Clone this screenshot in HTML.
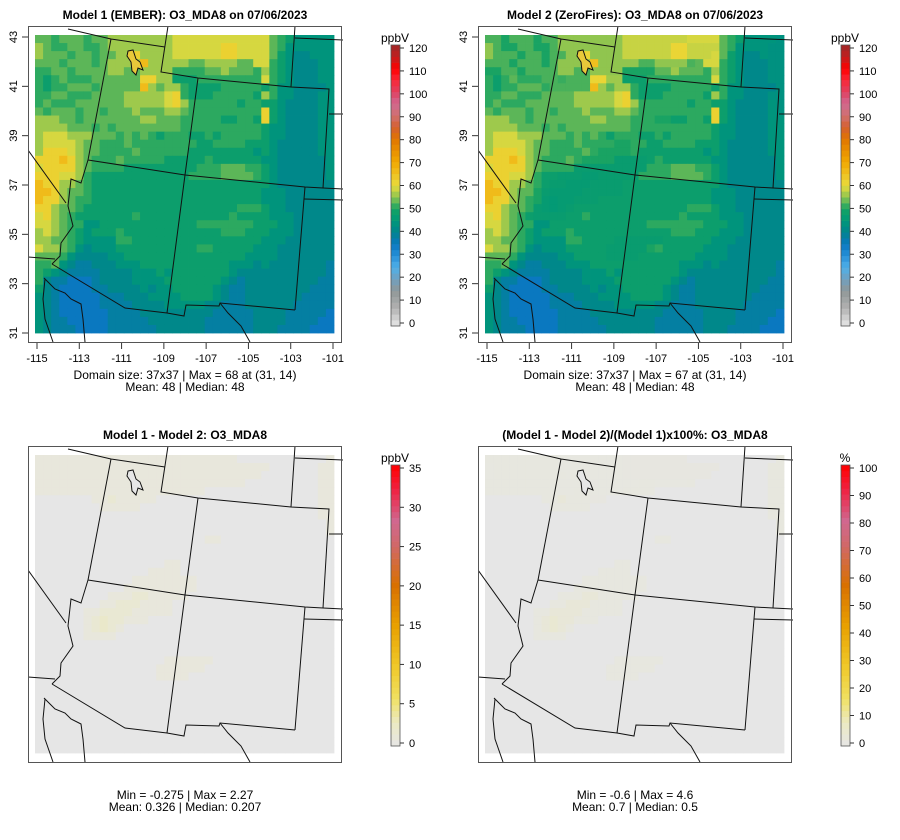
<!DOCTYPE html>
<html><head><meta charset="utf-8"><style>
html,body{margin:0;padding:0;background:#fff;}
svg{display:block;font-family:"Liberation Sans",sans-serif;}
</style></head><body>
<svg id="chart" width="900" height="840" viewBox="0 0 900 840" xmlns="http://www.w3.org/2000/svg"></svg>
<script>
// ---- data ----
const codeKeys = ["a","b","c","d","e","f","g","h","i","j","k"];
const codeValues = [35,38,41,44,48,51,53,56,59,62,66];
const model1Rows = [
"ggfgggfgg"+"hhhhhhhh"+"iiiiiiiiiiii"+"gf"+"eddddd",
"hgffggffg"+"hhhhhhhh"+"iiiiiijjiiii"+"gf"+"dddddd",
"hgggfggfg"+"ghhjhhhh"+"iiiiiijjiiii"+"ge"+"dccddd",
"gggfgggfg"+"hhhhkhhh"+"hhgghhhhggii"+"fe"+"dcccdd",
"ffggfgggg"+"hhgghhhh"+"ffffgghgggfh"+"fe"+"dcccdd",
"fefgfffgg"+"ggggjjhh"+"eeeffffffffi"+"fe"+"dcccdd",
"feffgggfg"+"ggggkhgh"+"hfeeeefffffe"+"fd"+"dccccd",
"ffggfffgg"+"gghhhhhi"+"jfeeefffffeh"+"fd"+"dcccdd",
"fgfffgggg"+"gghhhhhi"+"jhffffffeffe"+"ed"+"ccccdd",
"gfgggfggf"+"ggghgggh"+"hgfffffffffj"+"ed"+"ccccdd",
"hhhggfggg"+"gggghhgg"+"gfffffeeffej"+"ed"+"ccccdd",
"hhhhgggfg"+"fggggggg"+"gffffffffffe"+"dd"+"ccccdd",
"hiiihhhgg"+"gfgfgfef"+"ffeefefffffe"+"dd"+"ccccdd",
"hiiiihggf"+"ffgfffff"+"fffeeffffeee"+"dc"+"ccccdd",
"hjjjihggf"+"fffgffff"+"ffeeeeeeeede"+"dc"+"ccccdd",
"jjjkjhgff"+"fgfffffe"+"eeeefeeeeeed"+"dc"+"cccccd",
"ijjjjhgff"+"ffeeeeee"+"eeefffgggffe"+"dc"+"cccccd",
"jjjiihfee"+"eeeeeeee"+"eeffffggggfe"+"dc"+"cccccd",
"kjjhhgfee"+"eeeeeeee"+"eeeeeeeeeeee"+"dc"+"cccccc",
"kkjhggfee"+"eeeeeeee"+"eeeeeeeeeeed"+"dd"+"cccccc",
"kjjhgffee"+"eeeeeeee"+"eeeeeeeeeeed"+"dd"+"cccccc",
"jjhggfeee"+"eeeeeeee"+"eeeeeeeefffe"+"dd"+"cccccc",
"ijhgfeeee"+"eeefeeee"+"eeeeeeefeeee"+"dd"+"dccccc",
"iihgffdde"+"eeeeeeee"+"eeefffffffee"+"ed"+"dccccc",
"hihgfedee"+"efeeeeee"+"eeeeeefffeee"+"dd"+"dccccc",
"hhggfeddd"+"dffeeeee"+"eeeeeeeeeeed"+"dd"+"cccccc",
"ihhgfdcdd"+"deeeeeee"+"eeeffeeeeedd"+"dc"+"cccccc",
"gggfdcccc"+"ddeeeeee"+"eeeeeeeeeddd"+"dc"+"cccccc",
"ffgdcbbcc"+"cdddeeee"+"eeeeeeedddcd"+"cc"+"cccccb",
"fedcbbbbc"+"cccddded"+"eeeeeeedcccc"+"cc"+"cccccb",
"fcbbaaabc"+"cccdddde"+"eeeeeedcbccc"+"cc"+"ccccbb",
"ecbaaaabb"+"ccccdcdd"+"eeeeedcbbccc"+"cc"+"cccbbb",
"dcbaaaaab"+"bbcccddd"+"deeeedcbbccc"+"cc"+"ccbbbb",
"dcbaaaaab"+"bbbccccd"+"ddddccbbbccc"+"cc"+"cbbbbb",
"dcbaaaaaa"+"bbbbcccc"+"cccccbbbbbcc"+"cc"+"bbbbba",
"dcbbaaaaa"+"bbbbbccc"+"ccccbbbbbbcc"+"cc"+"bbbbaa",
"dcbbbaaaa"+"bbbbbbcc"+"ccccbbbbbbcc"+"cb"+"bbbaaa"
];
const diffKeys = ["0","1","2","3"];
const diffValues = [0,0.8,1.5,2.2];
const diffRows = [
"1111111111111111111111111000000000001",
"1111111111111111111111111111100000011",
"1111111111111111111111111111000000011",
"1111111111111111111111111100000000011",
"1111111111111111111110000000000000011",
"0000000112111110000000000000000000011",
"0000000011111000000000000000000000011",
"0000000000000000000000000000000000011",
"0000000000000000000000000000000000001",
"0000000000000000000000000000000000001",
"0000000000000000000001100000000000000",
"0000000000000000000000000000000000000",
"0000000000000000000000000000000000000",
"0000000000000000110000000000000000000",
"0000000000000011110000000000000000000",
"0000000000001111111100000000000000000",
"0000000000011111111100000000000000000",
"0000000001112211111000000000000000000",
"0000000011222111100000000000000000000",
"0000001122221111100000000000000000000",
"0000001232211100000000000000000000000",
"0000001232100000000000000000000000000",
"0000001111000000000000000000000000000",
"0000000000000000000000000000000000000",
"0000000000000000000000000000000000000",
"0000000000000000111111000000000000000",
"0000000000000001111110000000000000000",
"0000000000000001111000000000000000000",
"0000000000000000000000000000000000000",
"0000000000000000000000000000000000000",
"0000000000000000000000000000000000000",
"0000000000000000000000000000000000000",
"0000000000000000000000000000000000000",
"0000000000000000000000000000000000000",
"0000000000000000000000000000000000000",
"0000000000000000000000000000000000000",
"0000000000000000000000000000000000000"
];
const lonTicks = [-115,-113,-111,-109,-107,-105,-103,-101];
const latTicks = [43,41,39,37,35,33,31];
const ppbTicks = [0,10,20,30,40,50,60,70,80,90,100,110,120];
const diffTicks = [0,5,10,15,20,25,30,35];
const pctTicks = [0,10,20,30,40,50,60,70,80,90,100];

// ---- helpers ----
const NS="http://www.w3.org/2000/svg";
const svg=document.getElementById('chart');
function mk(tag,attrs,parent){const e=document.createElementNS(NS,tag);for(const k in attrs)e.setAttribute(k,attrs[k]);(parent||svg).appendChild(e);return e;}
function hex(c){return [parseInt(c.substr(1,2),16),parseInt(c.substr(3,2),16),parseInt(c.substr(5,2),16)];}
function scaleColor(stops,v){
  if(v<=stops[0][0])return stops[0][1];
  for(let i=1;i<stops.length;i++){if(v<=stops[i][0]){const t=(v-stops[i-1][0])/(stops[i][0]-stops[i-1][0]);const a=hex(stops[i-1][1]),b=hex(stops[i][1]);return 'rgb('+a.map((x,j)=>Math.round(x+(b[j]-x)*t)).join(',')+')';}}
  return stops[stops.length-1][1];
}
const ppbStops=[[0,"#e8e8e8"],[8,"#b0b0b0"],[15,"#909898"],[20,"#70a0c0"],[25,"#50b0e8"],[30,"#2890d8"],[35,"#0a78c0"],[40,"#00848e"],[45,"#009878"],[50,"#14a264"],[55,"#8cc450"],[60,"#e8dc3c"],[65,"#f0c020"],[70,"#f0a800"],[80,"#e07400"],[85,"#d46030"],[90,"#d07070"],[95,"#d06890"],[100,"#e04060"],[105,"#f82838"],[110,"#ff0000"],[115,"#c02020"],[120,"#a02828"]];
const diffStops=[[0,"#e6e6e6"],[3,"#ece9c0"],[6,"#f0e060"],[10,"#f0c828"],[15,"#e8a000"],[20,"#d87000"],[25,"#d06868"],[28,"#d06890"],[32,"#f02040"],[35,"#ff0000"]];
const pctStops=diffStops.map(s=>[s[0]*100/35,s[1]]);
function decode(rows,keys,vals){return rows.map(r=>{const out=[];for(let i=0;i<37;i++){const ch=r[i]||r[r.length-1];out.push(vals[keys.indexOf(ch)]);}return out;});}
const m1=decode(model1Rows,codeKeys,codeValues);
const dG=decode(diffRows,diffKeys,diffValues);
const m2=m1.map((r,i)=>r.map((v,j)=>v-dG[i][j]));
const pG=m1.map((r,i)=>r.map((v,j)=>dG[i][j]/v*100));

// axis functions (panel-local)
const GX0=7,GX1=306,GY0=9,GY1=307;
function colX(j){return GX0+j*(GX1-GX0)/37;}
function rowY(i){return GY0+i*(GY1-GY0)/37;}
function lonX(l){return 9+(l+115)*(305-9)/14;}
function latY(l){return 11+(43-l)*(307-11)/12;}

const borders=[
 [[40,3],[83,13],[137,21]],
 [[140,0],[133,46],[170,52],[263,61],[301,63],[295,162]],
 [[267,0],[263,61]],
 [[267,12],[315,14]],
 [[301,88],[315,88]],
 [[295,162],[315,163]],
 [[83,13],[60,134]],
 [[60,134],[157,149],[277,161],[295,162]],
 [[170,52],[157,149],[139,287]],
 [[277,161],[276,173],[267,284]],
 [[276,173],[315,174]],
 [[267,284],[192,277],[191,280],[158,279],[156,290],[139,287],[97,282],[24,238]],
 [[60,134],[53,157],[43,153],[40,180],[45,200],[33,217],[32,230],[24,238]],
 [[0,124],[38,177]],
 [[0,231],[27,233]],
 [[16,252],[22,258],[27,263],[37,267],[43,273],[53,278],[55,293],[57,316]],
 [[17,253],[15,273],[17,293],[25,316]],
 [[192,277],[200,287],[213,300],[222,316]]
];
const lake=[[100,25],[105,24],[108,33],[112,36],[115,44],[110,42],[108,49],[104,45],[103,36],[99,30]];

let clipN=0;
function panel(ox,oy,grid,stops,name,title,axes,lakeFill){
  const g=mk('g',{transform:`translate(${ox},${oy})`});
  
  
  const cid='clip'+(clipN++);
  const cp=mk('clipPath',{id:cid},g);mk('rect',{x:0,y:0,width:315,height:316},cp);
  const hm=mk('g',{'clip-path':`url(#${cid})`},g);
  
  
  for(let i=0;i<37;i++)for(let j=0;j<37;j++){
    mk('rect',{x:colX(j).toFixed(2),y:rowY(i).toFixed(2),width:((GX1-GX0)/37+0.4).toFixed(2),height:((GY1-GY0)/37+0.4).toFixed(2),fill:scaleColor(stops,grid[i][j])},hm);
  }
  const bl=mk('g',{'clip-path':`url(#${cid})`,fill:'none',stroke:'#111','stroke-width':1},g);
  
  
  borders.forEach(b=>mk('polyline',{points:b.map(p=>p.join(',')).join(' ')},bl));
  const lk=mk('polygon',{points:lake.map(p=>p.join(',')).join(' '),fill:lakeFill,stroke:'#111','stroke-width':1},g);
  
  
  const fr=mk('rect',{x:0.5,y:0.5,width:313,height:316,fill:'none',stroke:'#555','stroke-width':1},g);
  
  
  const t=mk('text',{x:157,y:-7,'text-anchor':'middle','font-size':12,'font-weight':'bold',fill:'#000'},g);
  t.textContent=title;
  
  
  if(axes){
    lonTicks.forEach(l=>{const x=lonX(l);mk('line',{x1:x,x2:x,y1:317,y2:323,stroke:'#333'},g);
      const tx=mk('text',{x:x,y:336,'text-anchor':'middle','font-size':11},g);tx.textContent=l;
      
      });
    latTicks.forEach(l=>{const y=latY(l);mk('line',{x1:0,x2:-6,y1:y,y2:y,stroke:'#333'},g);
      const tx=mk('text',{x:-11,y:y,'text-anchor':'middle','font-size':11,transform:`rotate(-90 -11 ${y})`},g);tx.textContent=l;
      
      });
  }
  return g;
}
function colorbar(x,yTop,yBot,vmax,stops,ticks,unit,name){
  const g=mk('g',{});
  
  
  const n=48,h=(yBot-yTop)/n;
  for(let k=0;k<n;k++){mk('rect',{x:x,y:(yBot-(k+1)*h).toFixed(2),width:9,height:(h+0.3).toFixed(2),fill:scaleColor(stops,(k+0.5)/n*vmax)},g);}
  mk('rect',{x:x,y:yTop,width:9,height:yBot-yTop,fill:'none',stroke:'#555','stroke-width':0.8},g);
  const ty=v=>yBot-3-(v/vmax)*(yBot-yTop-6);
  ticks.forEach(v=>{const y=ty(v);mk('line',{x1:x+9,x2:x+13,y1:y,y2:y,stroke:'#333'},g);
    const t=mk('text',{x:x+18,y:y+4,'font-size':11},g);t.textContent=v;
    
    });
  const u=mk('text',{x:x+4,y:yTop-3,'text-anchor':'middle','font-size':12},g);u.textContent=unit;
  
  
}
function caption(cx,y,lines){
  lines.forEach((s,i)=>{const t=mk('text',{x:cx,y:y+i*12,'text-anchor':'middle','font-size':12},svg);t.textContent=s;
    
    });
}
panel(28,26,m1,ppbStops,'panel-model1-ember','Model 1 (EMBER): O3_MDA8 on 07/06/2023',true,'#e8c83a');
panel(478,26,m2,ppbStops,'panel-model2-zerofires','Model 2 (ZeroFires): O3_MDA8 on 07/06/2023',true,'#e8c83a');
panel(28,446,dG,diffStops,'panel-difference','Model 1 - Model 2: O3_MDA8',false,'#e6e6e6');
panel(478,446,pG,pctStops,'panel-percent-difference','(Model 1 - Model 2)/(Model 1)x100%: O3_MDA8',false,'#e6e6e6');
colorbar(391,45,326,120,ppbStops,ppbTicks,'ppbV','colorbar-model1');
colorbar(841,45,326,120,ppbStops,ppbTicks,'ppbV','colorbar-model2');
colorbar(391,465,746,35,diffStops,diffTicks,'ppbV','colorbar-difference');
colorbar(841,465,746,100,pctStops,pctTicks,'%','colorbar-percent');
caption(185,379,['Domain size: 37x37 | Max = 68 at (31, 14)','Mean: 48 |  Median: 48']);
caption(635,379,['Domain size: 37x37 | Max = 67 at (31, 14)','Mean: 48 |  Median: 48']);
caption(185,799,['Min = -0.275 | Max = 2.27','Mean: 0.326 |  Median: 0.207']);
caption(635,799,['Min = -0.6 | Max = 4.6','Mean: 0.7 |  Median: 0.5']);
</script>
</body></html>
